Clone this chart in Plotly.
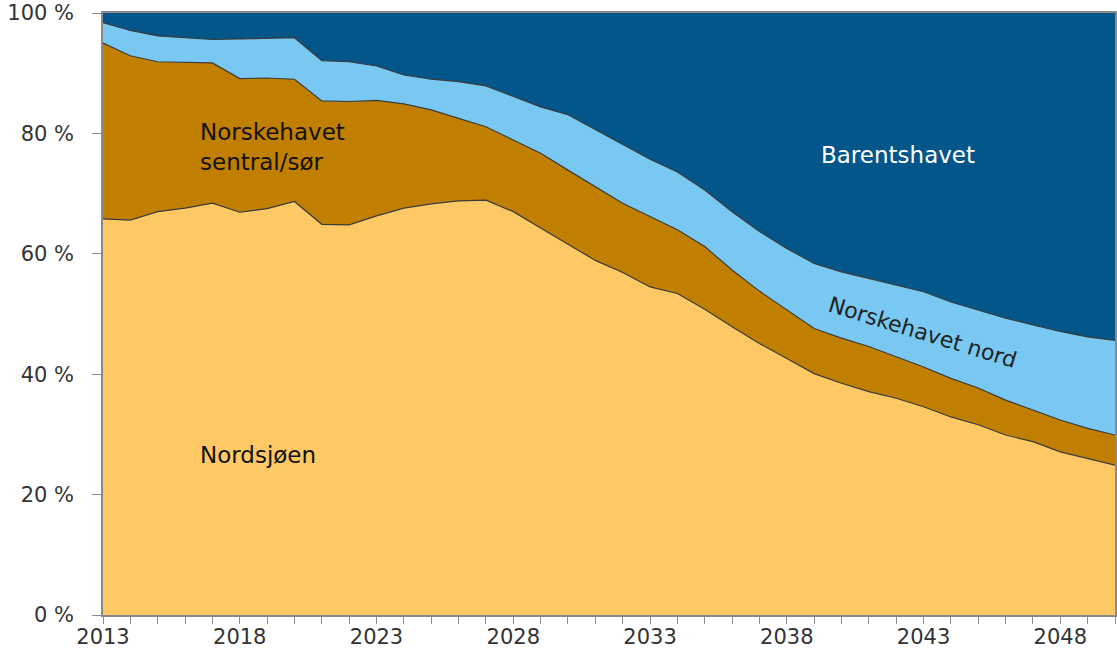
import plotly.graph_objects as go

years = list(range(2013, 2051))

nordsjoen = [65.8, 65.6, 67.0, 67.6, 68.4, 66.9, 67.5, 68.7, 64.9, 64.8,
             66.3, 67.6, 68.3, 68.8, 68.9, 67.0, 64.3, 61.6, 58.9, 56.9,
             54.5, 53.4, 50.8, 47.9, 45.1, 42.6, 40.1, 38.5, 37.1, 36.0,
             34.6, 32.9, 31.6, 29.9, 28.8, 27.1, 26.0, 24.9]
sentral_sor = [29.2, 27.3, 24.9, 24.2, 23.3, 22.2, 21.7, 20.3, 20.5, 20.5,
               19.2, 17.3, 15.6, 13.7, 12.2, 11.9, 12.4, 12.3, 12.2, 11.5,
               11.7, 10.6, 10.4, 9.4, 8.7, 8.1, 7.5, 7.5, 7.5, 6.9,
               6.6, 6.4, 6.1, 5.8, 5.3, 5.3, 5.0, 5.0]
nord = [3.4, 4.2, 4.3, 4.1, 3.9, 6.6, 6.6, 6.9, 6.7, 6.6,
        5.7, 4.8, 5.1, 6.1, 6.8, 7.3, 7.7, 9.2, 9.5, 9.7,
        9.5, 9.6, 9.4, 9.7, 9.9, 10.2, 10.8, 11.0, 11.3, 11.9,
        12.5, 12.7, 13.0, 13.6, 14.1, 14.7, 15.2, 15.7]
barents = [1.6, 2.9, 3.8, 4.1, 4.4, 4.3, 4.2, 4.1, 7.9, 8.1,
           8.8, 10.3, 11.0, 11.4, 12.1, 13.8, 15.6, 16.9, 19.4, 21.9,
           24.3, 26.4, 29.4, 33.0, 36.3, 39.1, 41.6, 43.0, 44.1, 45.2,
           46.3, 48.0, 49.3, 50.7, 51.8, 52.9, 53.8, 54.4]

series_names = ["Nordsjøen", "Norskehavet sentral/sør", "Norskehavet nord", "Barentshavet"]
series_values = [nordsjoen, sentral_sor, nord, barents]
fill_colors = ["#FEC864", "#C17F00", "#79C8F1", "#02568A"]
line_widths = [1.2, 1.2, 1.2, 0]

x_tick_vals = [2013, 2018, 2023, 2028, 2033, 2038, 2043, 2048]
y_tick_vals = [0, 20, 40, 60, 80, 100]
y_tick_text = ["0 %", "20 %", "40 %", "60 %", "80 %", "100 %"]

FONT = "DejaVu Sans"

fig = go.Figure()
for name, vals, col, lw in zip(series_names, series_values, fill_colors, line_widths):
    fig.add_trace(go.Scatter(
        x=years, y=vals, name=name, mode="lines",
        stackgroup="one", fillcolor=col,
        line=dict(color="#3a3a3a", width=lw),
        showlegend=False, hoverinfo="skip",
    ))

fig.update_layout(
    width=1117, height=652,
    margin=dict(l=103, r=2, t=13, b=37),
    paper_bgcolor="white", plot_bgcolor="white",
    font=dict(family=FONT, size=21, color="#333333"),
)

fig.update_xaxes(
    range=[2013, 2050], tickvals=x_tick_vals, showgrid=False,
    ticks="outside", ticklen=7, tickcolor="#8a8a8a",
    showline=True, linecolor="#8a8a8a", linewidth=1.5, mirror=True,
    minor=dict(dtick=1, tick0=2013, ticks="outside", ticklen=7, tickcolor="#8a8a8a"),
    tickfont=dict(family=FONT, size=21, color="#333333"),
    ticklabelstandoff=-5,
    automargin=False,
    zeroline=False,
)
fig.update_yaxes(
    range=[0, 100], tickvals=y_tick_vals, ticktext=y_tick_text, showgrid=False,
    ticks="outside", ticklen=9, tickcolor="#8a8a8a",
    showline=True, linecolor="#8a8a8a", linewidth=1.5, mirror=True,
    tickfont=dict(family=FONT, size=21, color="#333333"),
    ticklabelstandoff=14,
    automargin=False,
    zeroline=False,
)

ann_font = dict(family=FONT, size=23, color="#111111")
fig.add_annotation(x=2016.47, y=77.7, text="Norskehavet<br>sentral/sør", showarrow=False,
                   xanchor="left", yanchor="middle", align="left", font=ann_font)
fig.add_annotation(x=2016.47, y=26.6, text="Nordsjøen", showarrow=False,
                   xanchor="left", yanchor="middle", font=ann_font)
fig.add_annotation(x=2042.07, y=76.4, text="Barentshavet", showarrow=False,
                   xanchor="center", yanchor="middle",
                   font=dict(family=FONT, size=23, color="#ffffff"))
fig.add_annotation(x=2042.98, y=47.0, text="Norskehavet nord", showarrow=False,
                   xanchor="center", yanchor="middle", textangle=17,
                   font=dict(family=FONT, size=22, color="#222222"))

fig.write_html("out.html", config={"displayModeBar": False},
               post_script="document.body.style.margin='0';document.body.style.padding='0';")
